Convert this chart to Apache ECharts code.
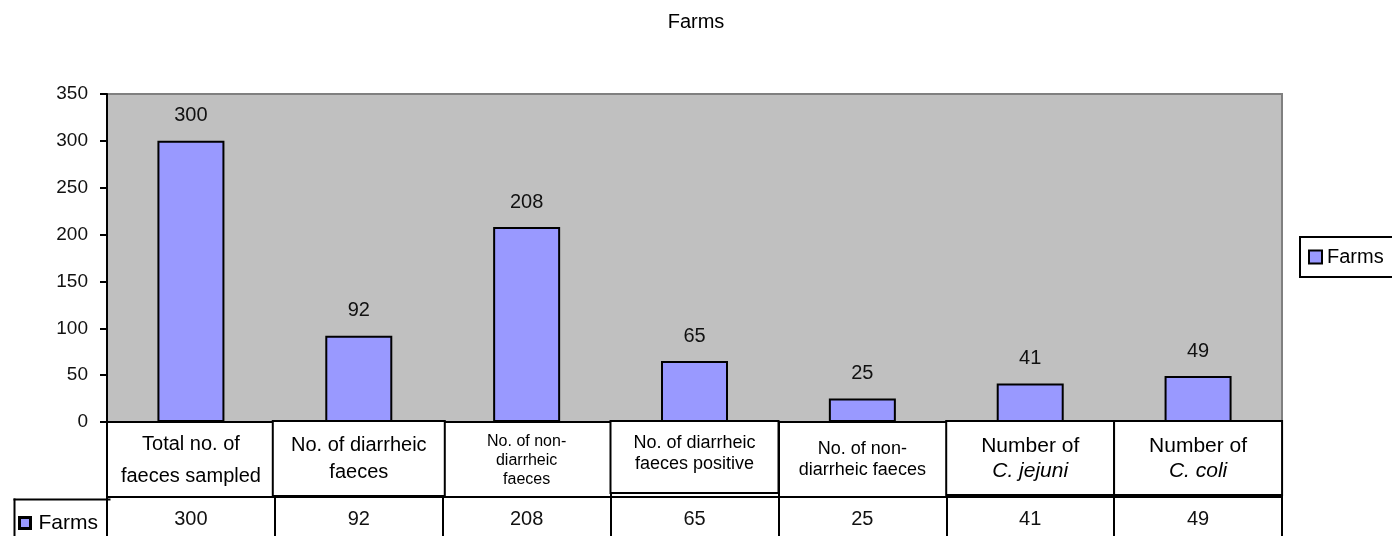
<!DOCTYPE html>
<html>
<head>
<meta charset="utf-8">
<script src="https://cdn.jsdelivr.net/npm/echarts@6/dist/echarts.min.js"></script>
<style>
  html, body { margin: 0; padding: 0; background: #fff; }
  #main { width: 1392px; height: 536px; }
</style>
</head>
<body>
<div id="main"></div>
<script>
// data
const seriesName = 'Farms'
const categories = [
    'Total no. of\nfaeces sampled',
    'No. of diarrheic\nfaeces',
    'No. of non-\ndiarrheic\nfaeces',
    'No. of diarrheic\nfaeces positive',
    'No. of non-\ndiarrheic faeces',
    'Number of\nC. jejuni',
    'Number of\nC. coli',
]
const values = [300, 92, 208, 65, 25, 41, 49]
const yMin = 0
const yMax = 350
const yStep = 50

const myChart = echarts.init(document.getElementById('main'))
const font = '"Liberation Sans", Arial, sans-serif'

// per category label look (boxes drawn round some of them)
const labelLook = [
    { fontSize: 20, lineHeight: 32, padding: [6, 6, 6, 6] },
    { fontSize: 20, lineHeight: 27, padding: [10, 10, 9, 10], border: true },
    { fontSize: 16, lineHeight: 19, padding: [10, 8, 6, 8] },
    { fontSize: 18, lineHeight: 21, padding: [11, 8, 17, 8], border: true },
    { fontSize: 18, lineHeight: 21, padding: [17, 6, 6, 6] },
    { fontSize: 21, lineHeight: 25, padding: [12, 8, 10, 8], border: true, italic: true },
    { fontSize: 21, lineHeight: 25, padding: [12, 8, 10, 8], border: true, italic: true },
]

const catData = categories.map((name, i) => {
    const lk = labelLook[i]
    return {
        value: name,
        textStyle: {
            fontSize: lk.fontSize,
            lineHeight: lk.lineHeight,
            padding: lk.padding,
            width: 150,
            borderColor: lk.border ? '#000' : 'transparent',
            borderWidth: lk.border ? 2 : 0,
            backgroundColor: lk.border ? '#fff' : 'transparent',
        },
    }
})

const option = {
    animation: false,
    title: {
        text: seriesName,
        left: 'center',
        top: 7,
        textStyle: { fontFamily: font, fontSize: 20, fontWeight: 'normal', color: '#000' },
    },
    legend: {
        data: [seriesName],
        left: 1300,
        top: 237,
        orient: 'vertical',
        padding: [10, 14, 10, 8],
        borderColor: '#000',
        borderWidth: 2,
        itemWidth: 13,
        itemHeight: 13,
        icon: 'rect',
        textStyle: { fontFamily: font, fontSize: 20, color: '#000' },
    },
    grid: {
        left: 107,
        right: 110,
        top: 94,
        bottom: 114,
        show: true,
        backgroundColor: '#C0C0C0',
        borderColor: '#808080',
        borderWidth: 2,
    },
    xAxis: [{
        type: 'category',
        data: catData,
        axisLine: { lineStyle: { color: '#000', width: 2 } },
        axisTick: { show: true, inside: false, length: 114, lineStyle: { color: '#000', width: 2 } },
        axisLabel: {
            interval: 0,
            margin: 0,
            verticalAlign: 'top',
            align: 'center',
            fontFamily: font,
            color: '#000',
            formatter: (value, index) => {
                if (!labelLook[index].italic) {
                    return value
                }
                const parts = value.split('\n')
                return '{n|' + parts[0] + '}\n{i|' + parts[1] + '}'
            },
            rich: {
                n: { fontFamily: font, fontSize: 21, lineHeight: 25, color: '#000' },
                i: { fontFamily: font, fontSize: 21, lineHeight: 25, color: '#000', fontStyle: 'italic' },
            },
        },
    }, {
        type: 'category',
        data: categories,
        position: 'bottom',
        offset: 75,
        axisLine: { show: true, lineStyle: { color: '#000', width: 2 } },
        axisTick: { show: false },
        axisLabel: {
            interval: 0,
            margin: 12,
            fontFamily: font,
            fontSize: 20,
            color: '#111',
            formatter: (value, index) => String(values[index]),
        },
    }],
    yAxis: {
        type: 'value',
        min: yMin,
        max: yMax,
        interval: yStep,
        splitLine: { show: false },
        axisLine: { show: true, lineStyle: { color: '#000', width: 2 } },
        axisTick: { show: true, inside: false, length: 7, lineStyle: { color: '#000', width: 2 } },
        axisLabel: { fontFamily: font, fontSize: 19, color: '#111', margin: 19 },
    },
    series: [{
        name: seriesName,
        type: 'bar',
        data: values,
        barWidth: 67,
        itemStyle: { color: '#9999FF', borderColor: '#000', borderWidth: 2 },
        label: {
            show: true,
            position: 'top',
            distance: 15,
            fontFamily: font,
            fontSize: 20,
            color: '#111',
        },
    }],
    graphic: [{
        type: 'group',
        left: 11,
        top: 496,
        children: [
            { type: 'line', shape: { x1: 0, y1: 1, x2: 97, y2: 1 }, style: { stroke: '#000', lineWidth: 2 } },
            { type: 'line', shape: { x1: 1, y1: 0, x2: 1, y2: 44 }, style: { stroke: '#000', lineWidth: 2 } },
            { type: 'rect', shape: { x: 6, y: 19, width: 11, height: 11 }, style: { fill: '#9999FF', stroke: '#000', lineWidth: 3 } },
            { type: 'text', x: 25, y: 14, style: { text: seriesName, fontFamily: font, fontSize: 21, fill: '#000' } },
        ],
    }],
}

myChart.setOption(option)
</script>
</body>
</html>
